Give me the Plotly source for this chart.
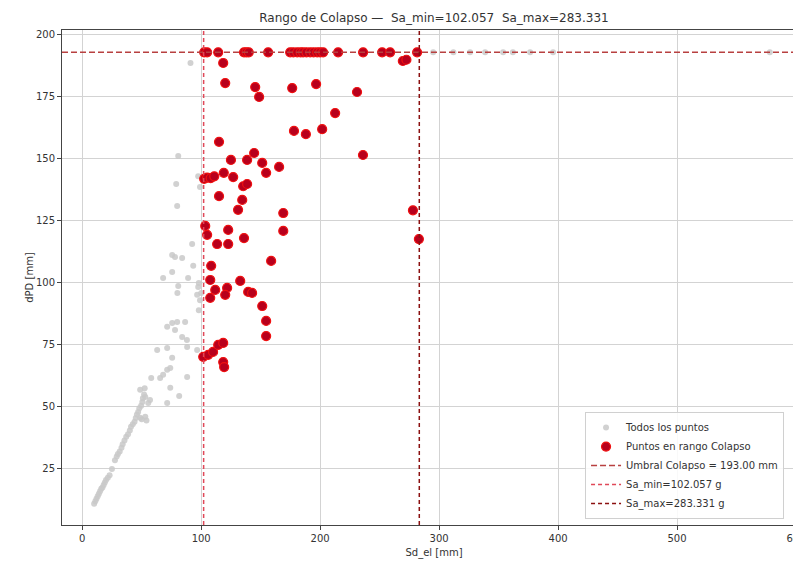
import plotly.graph_objects as go

# ---- data ----
sa_min = 102.057
sa_max = 283.331
umbral = 193.0

red_x = [102.5, 105.0, 114.3, 136.0, 138.0, 140.0, 156.3, 174.8, 177.5, 180.7, 183.5, 185.7,
         188.5, 191.6, 194.5, 197.5, 200.0, 202.5, 215.1, 236.1, 252.1, 258.8, 281.5,
         118.5, 120.2, 145.4, 148.7, 176.5, 196.6, 269.5, 272.5, 231.0, 212.6, 178.0, 188.0,
         201.7, 236.0, 115.0, 125.0, 144.5, 138.6, 151.3, 154.6, 165.5, 102.5, 105.0, 108.0,
         111.0, 119.0, 126.9, 135.3, 138.6, 115.0, 134.5, 131.0, 169.0, 103.4, 105.0, 122.7,
         169.0, 113.4, 122.7, 136.0, 108.4, 158.8, 107.6, 132.8, 111.8, 121.8, 120.2, 107.6,
         139.5, 142.8, 151.3, 154.6, 154.6, 101.7, 105.9, 110.0, 114.3, 118.5, 118.5, 119.3,
         278.0, 283.0]
red_y = [193.0, 193.0, 193.0, 193.0, 193.0, 193.0, 193.0, 193.0, 193.0, 193.0, 193.0, 193.0,
         193.0, 193.0, 193.0, 193.0, 193.0, 193.0, 193.0, 193.0, 193.0, 193.0, 193.0,
         188.7, 180.6, 179.0, 175.0, 178.6, 180.2, 189.5, 190.0, 177.0, 168.5, 161.3, 160.0,
         162.0, 151.6, 156.9, 149.6, 152.4, 149.6, 148.4, 144.4, 146.8, 142.0, 142.5, 142.3,
         143.0, 144.4, 142.7, 139.0, 139.9, 135.0, 133.5, 129.5, 128.2, 123.0, 119.4, 121.4,
         121.0, 115.7, 115.7, 118.1, 106.9, 108.9, 101.2, 100.8, 97.2, 98.0, 95.2, 94.0,
         96.4, 96.0, 90.7, 84.7, 78.6, 70.2, 71.0, 72.2, 75.0, 75.8, 68.1, 66.1,
         129.3, 117.7]

gray_x = [10, 11, 12, 13, 14, 15, 16, 17, 18, 19, 20, 21.5, 23, 25, 27.5, 29, 30, 31.5, 33,
          34, 35.5, 37, 38.5, 40, 41, 42.5, 44, 45, 46, 47, 48, 49.5, 50.5, 51, 52, 52.5,
          48.7, 50, 53, 54, 53, 57, 55.5, 48.7, 58, 65.5, 68, 71.4, 74, 75.6, 63, 71.4, 74,
          71.4, 81.5, 88.2, 71.4, 75.6, 78, 79.8, 86.5, 84, 88, 88.2, 96.6, 96.6, 80, 98, 98,
          99, 100, 80.7, 79, 79.8, 97.5, 99, 92.4, 75.6, 78, 84, 93.3, 75.6, 68, 89, 80.7,
          97.5, 91, 295, 312, 326, 338.7, 353.8, 362, 376.5, 395.8, 578]
gray_y = [11, 12, 13, 14, 15, 16, 17, 17.5, 18.5, 19.5, 20.5, 21.5, 22.5, 25, 28.5, 30, 31,
          32, 33.5, 35, 36.5, 38, 39, 40.5, 42, 43, 44, 45.5, 47, 48, 49.5, 50.5, 52, 53.5,
          55, 57.5, 45.6, 45, 46, 44.5, 54, 52.8, 51.6, 56.9, 61.7, 61.7, 63, 65, 65.7, 69.8,
          73, 73.8, 57.7, 51.6, 54.4, 62.1, 82.3, 83.9, 81, 84.3, 84.3, 78.2, 77, 74.2, 73,
          95.2, 96, 89, 100, 93, 96, 151.2, 139.9, 131, 143, 138.7, 115.7, 111.3, 110.5,
          110.1, 106.9, 104.4, 102, 102, 98.8, 98.4, 188.7, 193, 193, 193, 193, 193, 193,
          193, 193, 193]

x_ticks = [0, 100, 200, 300, 400, 500, 600]
y_ticks = [25, 50, 75, 100, 125, 150, 175, 200]

# all points = gray-only points plus the in-range ones
all_x = gray_x + red_x
all_y = gray_y + red_y

fig = go.Figure()
fig.add_trace(go.Scatter(
    x=all_x, y=all_y, mode="markers", name="Todos los puntos",
    marker=dict(size=6, color="#c9c9c9", opacity=0.85, line=dict(width=0)),
))
fig.add_trace(go.Scatter(
    x=red_x, y=red_y, mode="markers", name="Puntos en rango Colapso",
    marker=dict(size=9, color="#b8001c", line=dict(width=1.2, color="#f01010")),
))

fig.add_hline(y=umbral, line=dict(color="#b84040", width=1.5, dash="6px,3px"),
              showlegend=True, name=f"Umbral Colapso = {umbral:.2f} mm", layer="above")
fig.add_vline(x=sa_min, line=dict(color="#e04858", width=1.5, dash="4px,3px"),
              showlegend=True, name=f"Sa_min={sa_min:.3f} g", layer="above")
fig.add_vline(x=sa_max, line=dict(color="#8b1010", width=1.5, dash="4px,3px"),
              showlegend=True, name=f"Sa_max={sa_max:.3f} g", layer="above")

axis_common = dict(
    showgrid=True, gridcolor="#d3d3d3", gridwidth=1,
    showline=True, linecolor="#444", linewidth=1, mirror=True,
    ticks="outside", ticklen=4, tickcolor="#444",
    zeroline=False,
    tickfont=dict(family="DejaVu Sans", size=10, color="#333"),
)

fig.update_layout(
    width=801, height=561,
    margin=dict(l=54, r=3, t=22, b=44),
    paper_bgcolor="white", plot_bgcolor="white",
    font=dict(family="DejaVu Sans", size=10, color="#333"),
    title=dict(text=f"Rango de Colapso —  Sa_min={sa_min:.3f}  Sa_max={sa_max:.3f}",
               x=0.5, xref="paper", xanchor="center", y=0.982, yanchor="middle",
               font=dict(family="DejaVu Sans", size=12, color="#333")),
    xaxis=dict(range=[-17, 608.4], tickvals=x_ticks,
               title=dict(text="Sd_el [mm]", standoff=5,
                          font=dict(family="DejaVu Sans", size=10, color="#333")),
               **axis_common),
    yaxis=dict(range=[2.4, 202], tickvals=y_ticks,
               title=dict(text="dPD [mm]", standoff=0,
                          font=dict(family="DejaVu Sans", size=10, color="#333")),
               **axis_common),
    legend=dict(x=0.703, y=0.012, xanchor="left", yanchor="bottom",
                bgcolor="rgba(255,255,255,0.85)", bordercolor="#d0d0d0", borderwidth=1,
                font=dict(family="DejaVu Sans", size=10, color="#333"),
                itemwidth=30, tracegroupgap=0),
    showlegend=True,
)

fig.write_html("out.html")
